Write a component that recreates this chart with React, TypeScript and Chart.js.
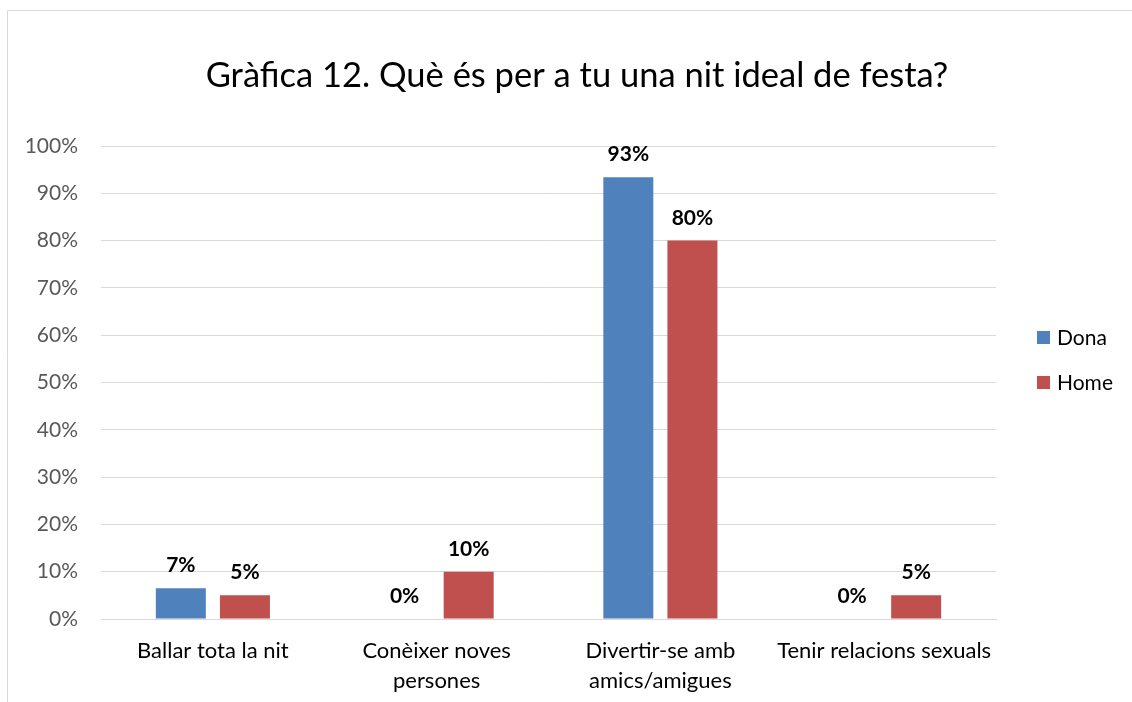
import React, { useEffect, useRef } from "react";
import { Chart, registerables } from "chart.js";
Chart.register(...registerables);

const categories: string[][] = [
  ["Ballar tota la nit"],
  ["Conèixer noves", "persones"],
  ["Divertir-se amb", "amics/amigues"],
  ["Tenir relacions sexuals"],
];
const seriesNames = ["Dona", "Home"];
const donaValues = [6.5, 0, 93.4, 0];
const homeValues = [5, 10, 80, 5];
const seriesColors = ["#4F81BD", "#C0504D"];
const yTicks = [0, 10, 20, 30, 40, 50, 60, 70, 80, 90, 100];
const titleText = "Gràfica 12. Què és per a tu una nit ideal de festa?";

const FONT = "Lato";

const decorPlugin = {
  id: "decor",
  beforeDraw(chart: any) {
    const ctx = chart.ctx;
    ctx.save();
    ctx.fillStyle = "#ffffff";
    ctx.fillRect(0, 0, chart.width, chart.height);
    ctx.strokeStyle = "#d9d9d9";
    ctx.lineWidth = 1;
    ctx.beginPath();
    ctx.moveTo(7.5, chart.height);
    ctx.lineTo(7.5, 10.5);
    ctx.lineTo(chart.width, 10.5);
    ctx.stroke();
    ctx.restore();
  },
  afterDraw(chart: any) {
    const ctx = chart.ctx;
    const area = chart.chartArea;
    ctx.save();
    // title
    ctx.fillStyle = "#000000";
    ctx.font = `34.5px ${FONT}`;
    ctx.textAlign = "center";
    ctx.textBaseline = "middle";
    ctx.fillText(titleText, 577, 76);
    // data labels
    ctx.font = `bold 21px ${FONT}`;
    ctx.textBaseline = "alphabetic";
    chart.data.datasets.forEach((ds: any, di: number) => {
      const meta = chart.getDatasetMeta(di);
      meta.data.forEach((bar: any, i: number) => {
        const v = ds.data[i];
        ctx.fillText(Math.round(v) + "%", bar.x, bar.y - 16);
      });
    });
    // legend
    const midY = (area.top + area.bottom) / 2;
    ctx.font = `21px ${FONT}`;
    ctx.textAlign = "left";
    ctx.textBaseline = "middle";
    chart.data.datasets.forEach((ds: any, di: number) => {
      const cy = midY - 45 + di * 45;
      const x = area.right + 41;
      ctx.fillStyle = ds.backgroundColor;
      ctx.fillRect(x, cy - 6.5, 13, 13);
      ctx.fillStyle = "#000000";
      ctx.fillText(ds.label, x + 20, cy + 1);
    });
    ctx.restore();
  },
};

export default function App() {
  const ref = useRef<HTMLCanvasElement>(null);
  useEffect(() => {
    if (!ref.current) return;
    const chart = new Chart(ref.current, {
      type: "bar",
      data: {
        labels: categories,
        datasets: [
          {
            label: seriesNames[0],
            data: donaValues,
            backgroundColor: seriesColors[0],
            categoryPercentage: 0.573,
            barPercentage: 0.78,
          },
          {
            label: seriesNames[1],
            data: homeValues,
            backgroundColor: seriesColors[1],
            categoryPercentage: 0.573,
            barPercentage: 0.78,
          },
        ],
      },
      options: {
        responsive: false,
        animation: false,
        layout: { padding: { left: 8, right: 136, top: 146, bottom: 0 } },
        plugins: {
          legend: { display: false },
          title: { display: false },
          tooltip: { enabled: false },
        },
        scales: {
          x: {
            grid: { display: false, drawTicks: false },
            border: { display: true, color: "#d9d9d9" },
            ticks: {
              color: "#000000",
              font: { family: FONT, size: 22, lineHeight: 1.36 },
              padding: 17,
              maxRotation: 0,
              autoSkip: false,
            },
            afterFit(scale: any) {
              scale.height = 83;
            },
          },
          y: {
            min: 0,
            max: 100,
            afterBuildTicks(scale: any) {
              scale.ticks = yTicks.map((v) => ({ value: v }));
            },
            grid: { color: "#d9d9d9", drawTicks: false },
            border: { display: false },
            ticks: {
              color: "#595959",
              font: { family: FONT, size: 21 },
              padding: 23,
              callback: (v: any) => v + "%",
            },
            afterFit(scale: any) {
              scale.width = 93;
            },
          },
        },
      },
      plugins: [decorPlugin],
    });
    return () => chart.destroy();
  }, []);
  return (
    <div style={{ position: "absolute", left: 0, top: 0, width: 1132, height: 702 }}>
      <canvas ref={ref} width={1132} height={702} />
    </div>
  );
}
